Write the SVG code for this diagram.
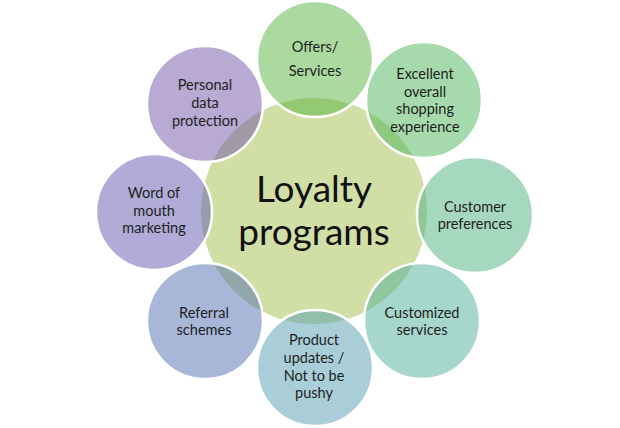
<svg xmlns="http://www.w3.org/2000/svg" width="620" height="428" viewBox="0 0 620 428">
<style>
.sat{stroke:#ffffff;stroke-width:2.5;fill-opacity:0.5}
.t{font-family:Lato,"Open Sans","Liberation Sans",sans-serif;font-size:14.5px;fill:#1e1e1e;text-anchor:middle}
.big{font-family:Lato,"Open Sans","Liberation Sans",sans-serif;font-size:37px;fill:#111111;text-anchor:middle}
</style>
<rect width="620" height="428" fill="#ffffff"/>
<g id="center">
<circle cx="314" cy="211" r="113" fill="#d1dfa6"/>
<text class="big" x="314" y="202">Loyalty</text>
<text class="big" x="314" y="245">programs</text>
</g>
<g id="offers">
<circle class="sat" cx="315" cy="59" r="58" fill="#57b341"/>
<text class="t" x="315" y="52">Offers/</text>
<text class="t" x="315" y="76">Services</text>
</g>
<g id="excellent">
<circle class="sat" cx="424" cy="100" r="58" fill="#4db357"/>
<text class="t" x="425" y="79">Excellent</text>
<text class="t" x="425" y="97">overall</text>
<text class="t" x="425" y="114">shopping</text>
<text class="t" x="425" y="132">experience</text>
</g>
<g id="customer-preferences">
<circle class="sat" cx="475" cy="215" r="58" fill="#4db181"/>
<text class="t" x="475" y="212">Customer</text>
<text class="t" x="475" y="229">preferences</text>
</g>
<g id="customized-services">
<circle class="sat" cx="422" cy="321" r="58" fill="#4faf99"/>
<text class="t" x="422" y="318">Customized</text>
<text class="t" x="422" y="335">services</text>
</g>
<g id="product-updates">
<circle class="sat" cx="315" cy="368" r="58" fill="#539db1"/>
<text class="t" x="314" y="345">Product</text>
<text class="t" x="314" y="363">updates /</text>
<text class="t" x="314" y="381">Not to be</text>
<text class="t" x="314" y="398">pushy</text>
</g>
<g id="referral-schemes">
<circle class="sat" cx="205" cy="321" r="58" fill="#516fb1"/>
<text class="t" x="204" y="318">Referral</text>
<text class="t" x="204" y="335">schemes</text>
</g>
<g id="word-of-mouth">
<circle class="sat" cx="154" cy="212" r="58" fill="#6159af"/>
<text class="t" x="154" y="198">Word of</text>
<text class="t" x="154" y="216">mouth</text>
<text class="t" x="154" y="233">marketing</text>
</g>
<g id="personal-data">
<circle class="sat" cx="205" cy="104" r="58" fill="#7155a5"/>
<text class="t" x="205" y="90">Personal</text>
<text class="t" x="205" y="108">data</text>
<text class="t" x="205" y="126">protection</text>
</g>
</svg>
